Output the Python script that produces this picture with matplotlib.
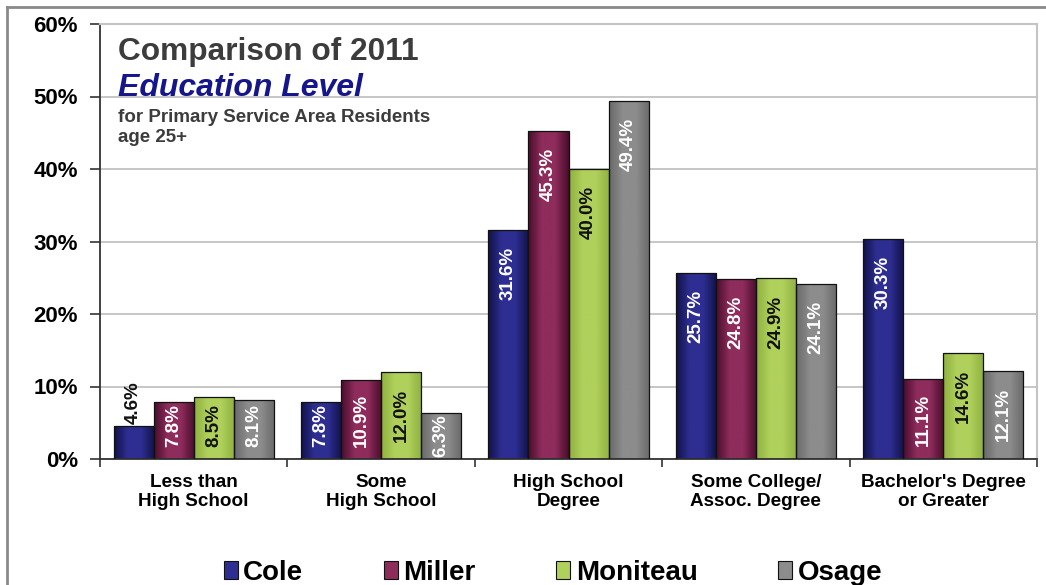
import numpy as np
import matplotlib
matplotlib.use("Agg")
import matplotlib.pyplot as plt
from matplotlib.colors import LinearSegmentedColormap
from matplotlib.lines import Line2D

# data
categories = ["Less than\nHigh School", "Some\nHigh School", "High School\nDegree",
              "Some College/\nAssoc. Degree", "Bachelor's Degree\nor Greater"]
counties = ["Cole", "Miller", "Moniteau", "Osage"]
cole = [4.6, 7.8, 31.6, 25.7, 30.3]
miller = [7.8, 10.9, 45.3, 24.8, 11.1]
moniteau = [8.5, 12.0, 40.0, 24.9, 14.6]
osage = [8.1, 6.3, 49.4, 24.1, 12.1]
yticks = [0, 10, 20, 30, 40, 50, 60]

series = [cole, miller, moniteau, osage]
# (edge shade, centre shade) for the gradient fill
shades = [("#12124a", "#2e2e92"), ("#4a0e2c", "#8e2c5c"),
          ("#90b040", "#b0d05c"), ("#6a6a6a", "#8c8c8c")]
label_colors = ["white", "white", "#111111", "white"]

plt.rcParams["font.family"] = ["Liberation Sans", "DejaVu Sans"]

fig = plt.figure(figsize=(10.46, 5.85), dpi=100)
ax = fig.add_axes([100 / 1046, 1 - 459 / 585, 937 / 1046, 435 / 585])

x = np.arange(len(categories))
w = 0.2135
px_per_unit = 435 / 60  # pixels per percent
label_size = 13.5
em_px = label_size * 100 / 72

for i, vals in enumerate(series):
    pos = x + (i - 1.5) * w
    bars = ax.bar(pos, vals, w, color=shades[i][1], zorder=2)
    cmap = LinearSegmentedColormap.from_list("g", [shades[i][0], shades[i][1], shades[i][1], shades[i][0]])
    grad = np.linspace(0, 1, 64).reshape(1, -1)
    for b in bars:
        im = ax.imshow(grad, cmap=cmap, aspect="auto", zorder=2.5,
                       extent=[b.get_x(), b.get_x() + b.get_width(), 0, b.get_height()])
        im.set_clip_path(b)
    ax.bar(pos, vals, w, fill=False, edgecolor="#111111", linewidth=0.9, zorder=3)

    for xp, v in zip(pos, vals):
        txt = f"{v:.1f}%"
        if v < 6:
            ax.annotate(txt, (xp, v), xytext=(0, 1), textcoords="offset points",
                        rotation=90, ha="center", va="bottom", fontsize=label_size,
                        fontweight="bold", color="#111111", zorder=4)
        else:
            n_digits = len(txt) - 2
            text_px = em_px * (0.556 * n_digits + 0.278 + 0.889)
            gap_px = max(1, min(17, v * px_per_unit - text_px - 12))
            ax.annotate(txt, (xp, v), xytext=(0, -gap_px * 0.72), textcoords="offset points",
                        rotation=90, ha="center", va="top", fontsize=label_size,
                        fontweight="bold", color=label_colors[i], zorder=4)

ax.set_xlim(-0.5, len(categories) - 0.5)
ax.set_ylim(0, 60)
ax.set_yticks(yticks)
ax.set_yticklabels([f"{t}%" for t in yticks], fontsize=16, fontweight="bold")
ax.yaxis.grid(True, color="#c2c2c2", linewidth=1.3, zorder=0)
ax.set_axisbelow(True)

ax.set_xticks(np.arange(len(categories) + 1) - 0.5)
ax.set_xticklabels([])
ax.set_xticks(x, minor=True)
ax.set_xticklabels(categories, minor=True, fontsize=13.6, fontweight="bold", linespacing=1.12)
ax.tick_params(axis="x", which="minor", length=0, pad=11)
ax.tick_params(axis="x", which="major", length=6, width=1.2, color="#333333", direction="out")
ax.tick_params(axis="y", length=7, width=1.2, color="#333333", pad=9)

ax.spines["left"].set_color("#333333")
ax.spines["bottom"].set_color("#333333")
ax.spines["left"].set_linewidth(1.3)
ax.spines["bottom"].set_linewidth(1.3)
for s in ["top", "right"]:
    ax.spines[s].set_color("#c4c4c4")
    ax.spines[s].set_linewidth(1.5)

# title block
fig.text(118 / 1046, 1 - 60 / 585, "Comparison of 2011", fontsize=22.8,
         fontweight="bold", color="#3c3c3c")
fig.text(118 / 1046, 1 - 96 / 585, "Education Level", fontsize=23,
         fontweight="bold", fontstyle="italic", color="#16168c")
fig.text(118 / 1046, 1 - 122 / 585, "for Primary Service Area Residents",
         fontsize=13.5, fontweight="bold", color="#3c3c3c")
fig.text(118 / 1046, 1 - 142 / 585, "age 25+", fontsize=13.5,
         fontweight="bold", color="#3c3c3c")

# outer frame
fig.add_artist(Line2D([7 / 1046, 7 / 1046], [0, 1 - 7 / 585], color="#8a8a8a", linewidth=2))
fig.add_artist(Line2D([7 / 1046, 1], [1 - 7 / 585, 1 - 7 / 585], color="#8a8a8a", linewidth=2))

handles = [plt.Rectangle((0, 0), 1, 1, facecolor=shades[i][1], edgecolor="#111111", linewidth=0.8)
           for i in range(4)]
fig.legend(handles, counties, loc="center", bbox_to_anchor=(553 / 1046, 1 - 573 / 585),
           ncol=4, frameon=False, prop={"size": 20, "weight": "bold"},
           handlelength=0.5, handleheight=0.6, handletextpad=0.2, columnspacing=2.9)

fig.savefig("out.png", dpi=100)
